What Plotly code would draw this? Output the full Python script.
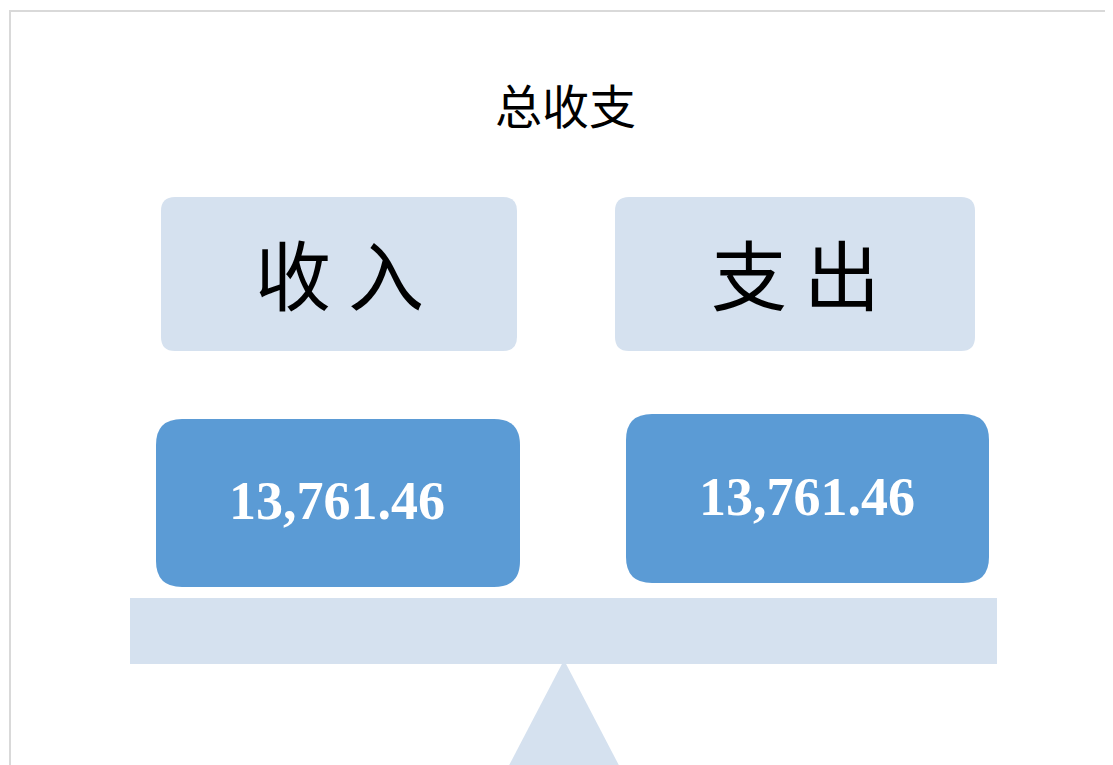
import plotly.graph_objects as go

# data
title_text = "总收支"
categories = ["收 入", "支 出"]
values = [13761.46, 13761.46]

# page geometry (pixel space)
W, H = 1113, 765
OFF = 8  # body margin of the page
label_boxes = [(161, 197, 517, 351), (615, 197, 975, 351)]
value_boxes = [(156, 419, 520, 587), (626, 414, 989, 583)]
beam = (130, 598, 997, 664)
pivot = [(504, 775), (564, 660), (624, 775)]

light = "#D5E1EF"
blue = "#5B9BD5"


def rounded(x0, y0, x1, y1, r):
    return (f"M {x0+r},{y0} L {x1-r},{y0} Q {x1},{y0} {x1},{y0+r} "
            f"L {x1},{y1-r} Q {x1},{y1} {x1-r},{y1} L {x0+r},{y1} "
            f"Q {x0},{y1} {x0},{y1-r} L {x0},{y0+r} Q {x0},{y0} {x0+r},{y0} Z")


fig = go.Figure()
shapes = []
annotations = []

# page frame
shapes.append(dict(type="rect", x0=10, y0=11, x1=W + 30, y1=H + 30,
                   line=dict(color="#d9d9d9", width=2), fillcolor="white", layer="below"))

# beam and pivot
shapes.append(dict(type="rect", x0=beam[0], y0=beam[1], x1=beam[2], y1=beam[3],
                   line=dict(width=0), fillcolor=light))
shapes.append(dict(type="path",
                   path="M {},{} L {},{} L {},{} Z".format(*pivot[0], *pivot[1], *pivot[2]),
                   line=dict(width=0), fillcolor=light))

for cat, val, lb, vb in zip(categories, values, label_boxes, value_boxes):
    shapes.append(dict(type="path", path=rounded(*lb, 14), line=dict(width=0), fillcolor=light))
    shapes.append(dict(type="path", path=rounded(*vb, 26), line=dict(width=0), fillcolor=blue))
    annotations.append(dict(x=(lb[0] + lb[2]) / 2, y=(lb[1] + lb[3]) / 2 - 2, text=cat,
                            showarrow=False, xanchor="center", yanchor="middle",
                            font=dict(family="Noto Sans CJK SC", size=76, color="black")))
    annotations.append(dict(x=(vb[0] + vb[2]) / 2 - 1, y=(vb[1] + vb[3]) / 2 - 2,
                            text=f"{val:,.2f}",
                            showarrow=False, xanchor="center", yanchor="middle",
                            font=dict(family="Liberation Serif", size=54, color="white",
                                      weight="bold")))

annotations.append(dict(x=565, y=103, text=title_text, showarrow=False,
                        xanchor="center", yanchor="middle",
                        font=dict(family="Noto Sans CJK SC", size=47, color="black")))

fig.update_layout(
    width=W, height=H,
    margin=dict(l=0, r=0, t=0, b=0),
    paper_bgcolor="white", plot_bgcolor="white",
    xaxis=dict(range=[OFF, W + OFF], visible=False, fixedrange=True),
    yaxis=dict(range=[H + OFF, OFF], visible=False, fixedrange=True),
    shapes=shapes, annotations=annotations,
    showlegend=False,
)

fig.write_html("out.html")
